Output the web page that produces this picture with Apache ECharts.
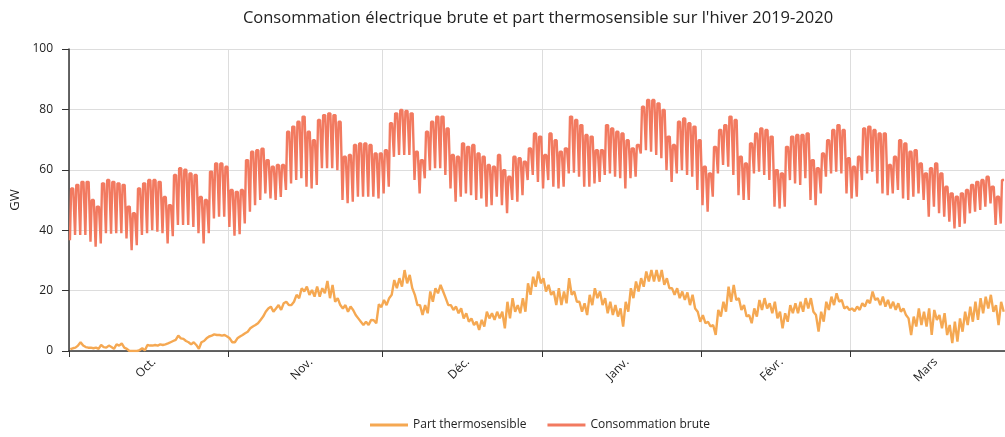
<!DOCTYPE html>
<html>
<head>
<meta charset="utf-8">
<script src="https://cdn.jsdelivr.net/npm/echarts@6/dist/echarts.min.js"></script>
<style>
  html, body { margin: 0; padding: 0; background: #fff; }
  #chart { width: 1005px; height: 437px; }
</style>
</head>
<body>
<div id="chart"></div>
<script>
// jours comptés depuis le 1er octobre 2019
const monthNames = ['Oct.', 'Nov.', 'Déc.', 'Janv.', 'Févr.', 'Mars'];
const monthStarts = [0, 31, 61, 92, 123, 152];
const monthLengths = [31, 30, 31, 31, 29, 31];

// consommation brute (GW) : pointe de la journée et creux de la nuit
const redHigh = [
  53.8, 55, 56, 56, 50, 47.8, 55.5, 56.6, 56, 55.5, 55, 47.8, 45.6, 53.8, 55.5, 56.6, 56.6, 56, 51, 48.3,
  58.3, 60.5, 60, 58.8, 58.3, 51, 50, 59.4, 62.1, 62.1, 61, 53.3, 52.7, 53.3, 63.2, 66, 66.5, 67, 63.2, 61,
  61.6, 61.6, 72.6, 74.3, 75.9, 77.6, 72.6, 69.8, 76.5, 78.1, 78.7, 78.1, 75.9, 64.3, 64.9, 68.2, 68.7, 68.7, 68.2, 65.4,
  65.4, 66.5, 75.4, 78.7, 79.8, 79.5, 78.7, 66, 63.2, 72.6, 75.9, 77.6, 77.6, 73.7, 64.9, 64.3, 68.7, 67.6, 68.2, 65.4,
  64.3, 61.6, 61, 64.9, 59.9, 57.7, 64.3, 63.8, 62.7, 67.1, 72, 71, 64.9, 72, 69.8, 66, 67.1, 77.6, 76.5, 74.8,
  71.5, 71, 66.5, 66.5, 74.8, 73.7, 72.6, 72, 69.8, 67.1, 68.2, 80.9, 83.1, 83.1, 82, 79.8, 71, 68.2, 75.9, 77,
  75.4, 74.3, 69.8, 61, 58.8, 67.6, 73.2, 74.8, 77.6, 76.5, 64.3, 62.1, 68.7, 72, 73.7, 73.2, 71, 59.9, 58.8, 67.6,
  71, 71.5, 71.5, 72, 63.2, 60.5, 65.4, 69.8, 73.2, 74.8, 73.2, 63.8, 61, 64.3, 73.7, 74.3, 73.2, 72, 72, 61.6,
  64.3, 69.8, 68.7, 66, 66.5, 62.1, 58.8, 60.5, 62.1, 58.8, 54.4, 52.2, 51.1, 52.2, 53.3, 55, 56, 56.6, 57.7, 54.4,
  51.1, 56.6
];
const redLow = [
  36.7, 38.4, 38.4, 38.4, 36.2, 34.5, 35.6, 39, 38.8, 39, 39, 37.3, 33.4, 35, 38.4, 39, 40, 39.5, 39, 35.6,
  38, 41.7, 41.7, 41.7, 41.1, 39, 35.6, 39, 43.9, 44.5, 44.5, 41.1, 38.2, 38.7, 42.2, 46.1, 48.3, 50, 52.2, 50.5,
  50, 51, 53.3, 55.5, 56.6, 57.2, 54.4, 53.8, 55, 60.5, 60.5, 60.5, 59.9, 50, 48.9, 49.4, 51.1, 51.1, 51.1, 51.1,
  50.5, 52.2, 54.4, 64.3, 64.9, 64.9, 64.9, 56.6, 52.2, 57.2, 59.9, 60.5, 60.5, 58.3, 53.8, 49.4, 51.1, 52.2, 51.6, 50,
  50.5, 47.8, 48.3, 51.1, 48.3, 45.6, 50, 49.4, 51.6, 56.6, 58.3, 56, 53.8, 56.6, 54.4, 53.8, 54.4, 58.8, 59, 57.7,
  54.4, 54.4, 55.5, 56, 58.3, 58.8, 57.7, 57.2, 53.8, 57.2, 57.7, 65.4, 66.5, 66, 64.9, 63.8, 59.9, 56, 58.8, 59.9,
  58.3, 57.7, 53.3, 48.3, 46.1, 51.1, 58.8, 61.6, 61, 58.3, 51.6, 50, 50, 58.8, 59.4, 58.3, 56.6, 47.8, 47.2, 47.8,
  56.6, 55.5, 55, 57.2, 50, 48.3, 52.2, 57.7, 58.8, 59.4, 58.8, 52.2, 50.5, 51.1, 56.6, 58.8, 59.4, 55.5, 52.2, 51.6,
  52.2, 53.3, 50.5, 50, 51.1, 52.2, 50, 44.5, 47.8, 45.6, 44.5, 42.8, 40.6, 41.1, 42.2, 45.6, 46.1, 46.7, 47.8, 48.9,
  41.7, 42.2
];

// part thermosensible (GW) : deux relevés par jour
const orangeA = [
  0.6, 1.1, 2.9, 1.3, 1.1, 1.1, 2.0, 1.1, 1.3, 2.2, 2.5, 0.7, 0, 0, 0.9, 2.0, 1.8, 1.8, 2.0, 2.5,
  3.3, 5.1, 4.0, 2.9, 2.9, 0.7, 3.3, 4.8, 5.5, 5.3, 5.3, 4.2, 2.9, 4.8, 5.9, 7.5, 8.6, 10.3, 13.0, 14.7,
  14.1, 13.6, 16.3, 15.2, 18.6, 20.8, 21.3, 20.2, 21.3, 20.8, 23.2, 21.9, 17.5, 14.1, 13.0, 13.6, 10.8, 8.6, 8.6, 10.2,
  15.5, 16.9, 17.5, 23.5, 24.1, 26.8, 25.2, 18.6, 15.2, 15.2, 19.7, 20.8, 21.9, 17.5, 15.2, 14.7, 14.1, 12.5, 10.8, 9.7,
  10.3, 13.0, 12.5, 13.0, 13.0, 16.3, 17.5, 15.2, 17.5, 22.4, 24.6, 26.3, 24.1, 21.9, 19.7, 20.8, 19.7, 24.1, 19.7, 16.3,
  15.8, 18.6, 20.8, 19.7, 17.5, 16.3, 15.2, 14.1, 16.3, 20.8, 23.0, 24.1, 26.3, 26.8, 26.8, 26.8, 24.1, 20.8, 20.8, 19.7,
  19.4, 18.6, 13.0, 11.9, 9.7, 8.6, 13.6, 16.3, 21.3, 21.9, 17.5, 15.2, 11.9, 14.1, 16.9, 17.5, 15.8, 16.3, 13.0, 12.5,
  15.2, 15.8, 16.3, 17.5, 17.5, 11.9, 13.0, 16.3, 18.0, 19.1, 16.9, 14.7, 14.1, 14.7, 15.8, 16.9, 19.7, 17.5, 18.0, 16.9,
  16.3, 15.8, 14.1, 10.8, 11.4, 14.1, 13.0, 14.1, 13.6, 11.9, 12.5, 8.6, 9.7, 10.8, 13.0, 14.7, 16.3, 17.5, 18.0, 18.6,
  15.2, 16.3
];
const orangeB = [
  0.9, 1.8, 1.8, 1.1, 0.9, 0.7, 1.3, 1.8, 0.7, 1.8, 1.1, 0, 0, 0.3, 0.2, 1.8, 2.0, 2.2, 2.2, 2.9,
  3.7, 4.2, 3.3, 2.2, 2.0, 2.9, 4.2, 5.1, 5.3, 5.1, 4.8, 2.9, 4.2, 5.3, 6.4, 8.1, 9.2, 11.4, 14.1, 13.0,
  15.2, 15.8, 15.2, 16.3, 17.5, 19.7, 18.6, 18.0, 18.0, 19.1, 17.5, 16.3, 15.2, 15.2, 14.7, 11.9, 9.7, 9.7, 10.3, 9.2,
  14.5, 15.2, 18.6, 20.8, 21.3, 22.4, 20.8, 15.2, 11.9, 12.5, 16.3, 19.1, 19.7, 15.2, 13.6, 12.5, 10.8, 9.7, 8.6, 7.0,
  8.1, 10.8, 10.3, 10.8, 7.5, 10.8, 13.0, 12.5, 13.0, 18.6, 21.3, 22.4, 19.7, 18.6, 15.2, 15.2, 15.8, 18.6, 16.3, 13.0,
  11.9, 15.2, 17.5, 15.2, 12.5, 11.9, 11.4, 8.1, 13.0, 17.5, 19.7, 21.3, 23.0, 23.0, 23.0, 21.9, 20.8, 18.6, 17.5, 16.9,
  15.2, 14.1, 9.7, 9.2, 8.1, 5.3, 11.4, 13.0, 16.3, 16.9, 13.6, 11.4, 9.2, 11.4, 13.6, 14.1, 12.5, 10.8, 7.5, 9.7,
  12.5, 12.5, 13.0, 14.1, 13.0, 6.4, 9.7, 13.6, 15.2, 16.3, 14.1, 13.6, 13.2, 13.6, 14.7, 15.8, 16.9, 15.2, 14.7, 14.1,
  13.6, 13.0, 11.9, 5.3, 8.1, 8.6, 8.1, 5.3, 10.3, 7.5, 5.3, 2.6, 3.1, 6.4, 8.6, 9.7, 10.3, 12.5, 14.1, 13.0,
  8.6, 13.0
];

const yTicks = [0, 20, 40, 60, 80, 100];

const chart = echarts.init(document.getElementById('chart'));

const redData = [];
redLow.forEach((low, d) => {
  redData.push([d + 0.18, low], [d + 0.42, redHigh[d]], [d + 0.82, redHigh[d]]);
});
const orangeData = [];
orangeA.forEach((a, d) => {
  orangeData.push([d + 0.25, a], [d + 0.75, orangeB[d]]);
});

// libellés des mois placés vers le milieu du mois
const labelDays = monthStarts.map((s, i) => s + monthLengths[i] / 2 + 1);

const font = '"Open Sans", sans-serif';

const option = {
  animation: false,
  backgroundColor: '#fff',
  title: {
    text: "Consommation électrique brute et part thermosensible sur l'hiver 2019-2020",
    left: 533,
    top: 5,
    textAlign: 'center',
    textStyle: { fontFamily: font, fontSize: 16.5, fontWeight: 'normal', color: '#222' }
  },
  legend: {
    left: 365,
    top: 414,
    itemWidth: 38,
    itemHeight: 3,
    itemGap: 21,
    textStyle: { fontFamily: font, fontSize: 12, color: '#222' },
    data: [
      { name: 'Part thermosensible', icon: 'rect' },
      { name: 'Consommation brute', icon: 'rect' }
    ]
  },
  grid: { left: 69, right: 0, top: 49, bottom: 86, containLabel: false },
  xAxis: {
    type: 'value',
    min: 0,
    max: 182,
    axisLine: { lineStyle: { color: '#333', width: 1.5 } },
    axisTick: { customValues: monthStarts, length: 6, lineStyle: { color: '#333' } },
    splitLine: { show: true, lineStyle: { color: '#ddd', width: 1 } },
    axisLabel: {
      customValues: labelDays,
      rotate: 45,
      margin: 9,
      fontFamily: font,
      fontSize: 12,
      color: '#222',
      formatter: (v) => monthNames[labelDays.indexOf(v)] || ''
    }
  },
  yAxis: {
    type: 'value',
    min: yTicks[0],
    max: yTicks[yTicks.length - 1],
    interval: 20,
    name: 'GW',
    nameLocation: 'middle',
    nameGap: 47,
    nameTextStyle: { fontFamily: font, fontSize: 13, color: '#222' },
    axisLine: { show: true, lineStyle: { color: '#333', width: 1.5 } },
    axisTick: { show: true, length: 7, lineStyle: { color: '#333' } },
    splitLine: { lineStyle: { color: '#ddd', width: 1 } },
    axisLabel: { margin: 16, fontFamily: font, fontSize: 12, color: '#222' }
  },
  series: [
    {
      name: 'Part thermosensible',
      type: 'line',
      data: orangeData,
      color: '#F5A852',
      showSymbol: false,
      symbol: 'none',
      lineStyle: { width: 2.4, color: '#F5A852' }
    },
    {
      name: 'Consommation brute',
      type: 'line',
      data: redData,
      color: '#F27A60',
      showSymbol: false,
      symbol: 'none',
      lineStyle: { width: 2.4, color: '#F27A60' }
    }
  ]
};

chart.setOption(option);

window.addEventListener('resize', () => {
  chart.resize();
});
</script>
</body>
</html>
